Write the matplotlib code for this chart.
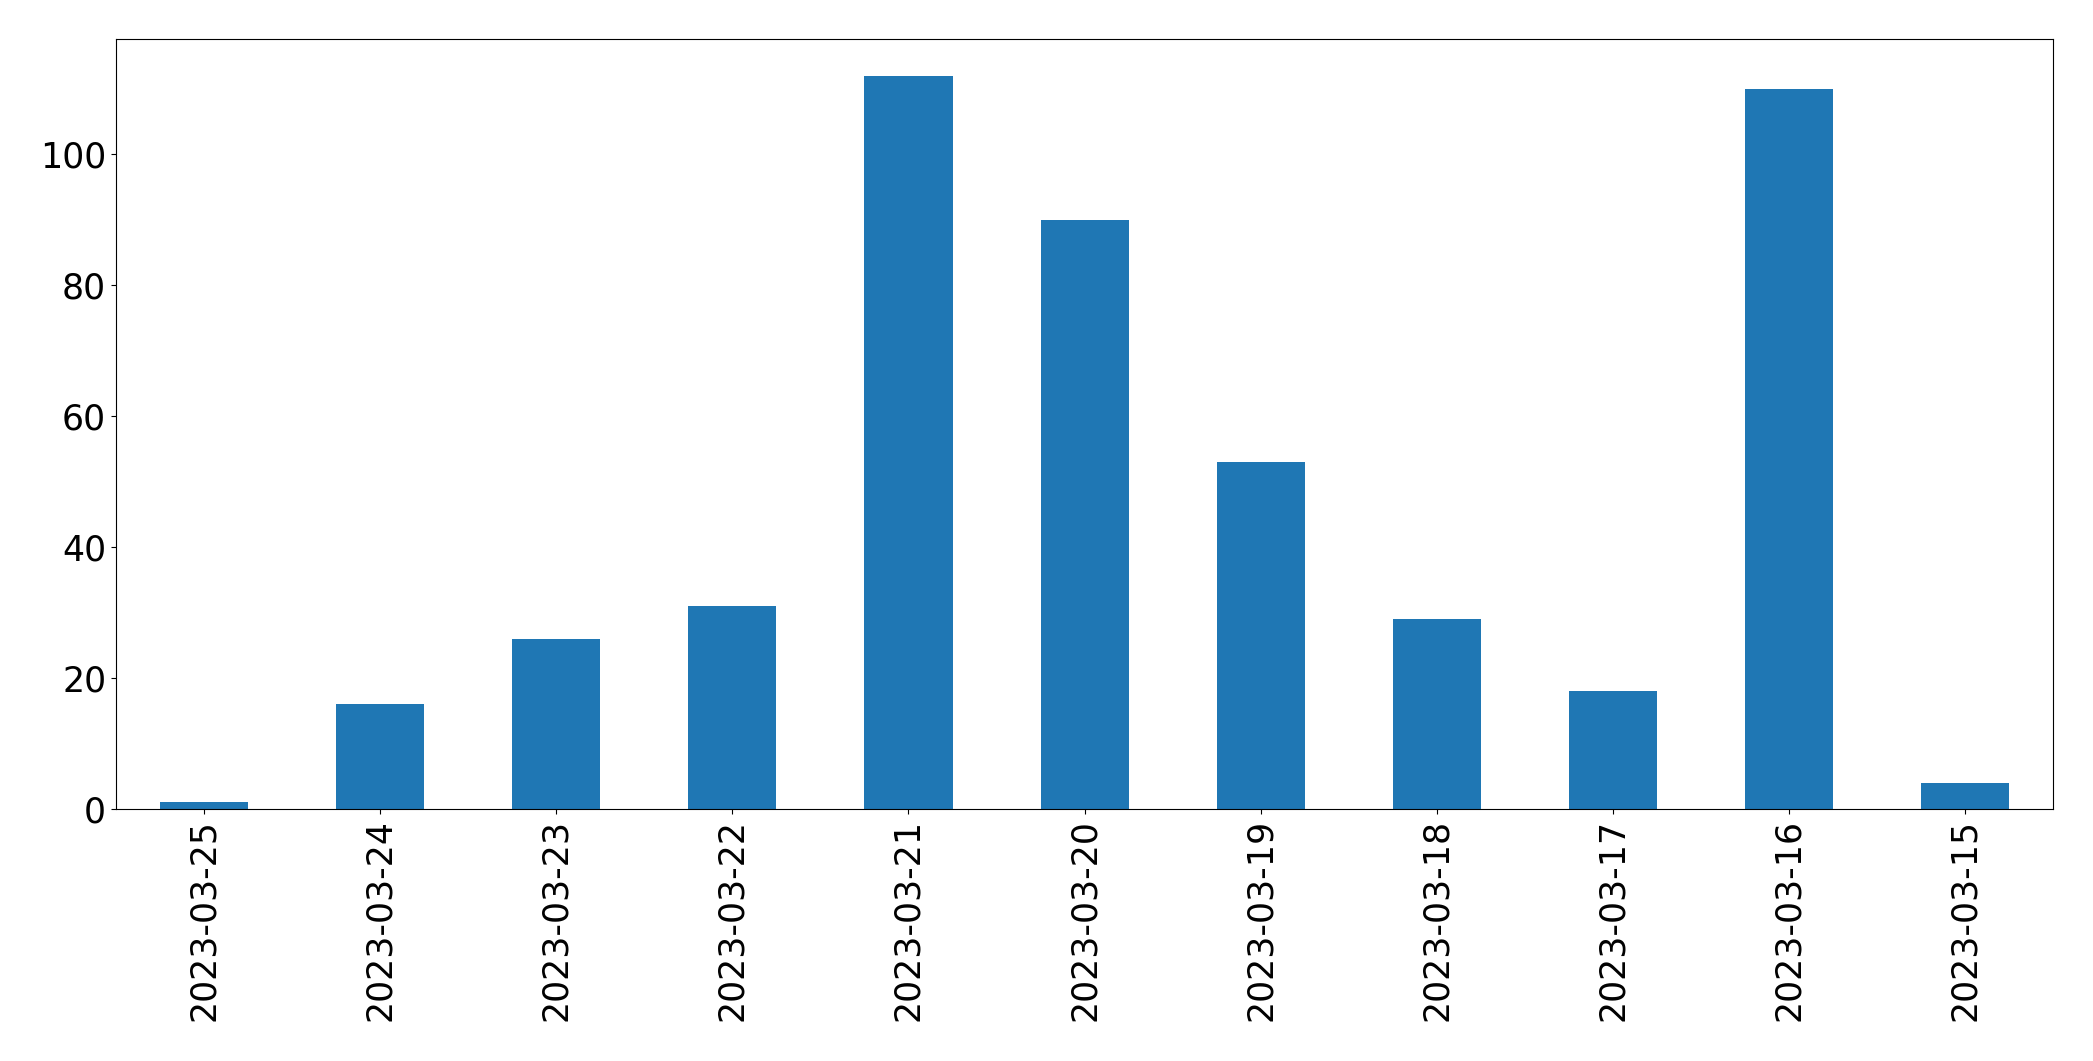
import numpy as np
import matplotlib
matplotlib.use("Agg")
import matplotlib.pyplot as plt

dates = ["2023-03-25", "2023-03-24", "2023-03-23", "2023-03-22", "2023-03-21",
         "2023-03-20", "2023-03-19", "2023-03-18", "2023-03-17", "2023-03-16",
         "2023-03-15"]
counts = [1, 16, 26, 31, 112, 90, 53, 29, 18, 110, 4]

fig, ax = plt.subplots(figsize=(20.93, 10.61), dpi=100)
fig.subplots_adjust(left=0.0554, right=0.981, top=0.9632, bottom=0.2375)

x = np.arange(len(dates))
ax.bar(x, counts, width=0.5, color="#1f77b4")
ax.set_xticks(x)
ax.set_xticklabels(dates, rotation=90)
ax.set_xlim(-0.5, len(dates) - 0.5)
ax.tick_params(labelsize=25)

fig.savefig("out.png", dpi=100)
